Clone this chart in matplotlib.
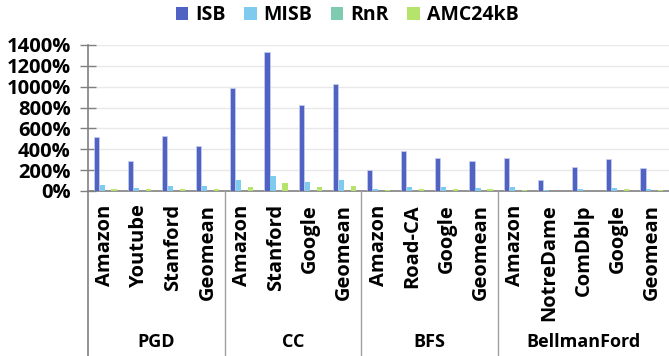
import matplotlib
matplotlib.use("Agg")
import matplotlib.pyplot as plt
from matplotlib.lines import Line2D
from matplotlib.patches import Patch
import numpy as np

plt.rcParams['font.family'] = ['Open Sans', 'DejaVu Sans']
plt.rcParams['font.weight'] = 'bold'

groups = ["PGD", "CC", "BFS", "BellmanFord"]
group_categories = [
    ["Amazon", "Youtube", "Stanford", "Geomean"],
    ["Amazon", "Stanford", "Google", "Geomean"],
    ["Amazon", "Road-CA", "Google", "Geomean"],
    ["Amazon", "NotreDame", "ComDblp", "Google", "Geomean"],
]
series_names = ["ISB", "MISB", "RnR", "AMC24kB"]
isb = [520, 285, 527, 428, 990, 1330, 822, 1026, 198, 383, 313, 288, 316, 103, 227, 304, 218]
misb = [55, 26, 51, 45, 106, 144, 90, 109, 19, 38, 35, 32, 38, 10, 19, 32, 19]
rnr = [4, 2, 3, 4, 2, 2, 2, 2, 2, 2, 3, 2, 2, 1, 1, 3, 1]
amc24kb = [16, 16, 19, 16, 42, 80, 42, 51, 10, 19, 16, 16, 10, 3, 3, 16, 6]
yticks = [0, 200, 400, 600, 800, 1000, 1200, 1400]

colors = ["#5062C2", "#7ECBEF", "#7ECBB0", "#B6E36C"]

W, H = 669, 356
fig = plt.figure(figsize=(W / 100, H / 100), dpi=100)
ax_left, ax_right = 88 / W, 669 / W
ax_bottom, ax_top = 1 - 191 / H, 1 - 45 / H
ax = fig.add_axes([ax_left, ax_bottom, ax_right - ax_left, ax_top - ax_bottom])

labels = [c for g in group_categories for c in g]
n = len(labels)
x = np.arange(n)
slot = 0.175
bw = 0.15
for i, (vals, col) in enumerate(zip([isb, misb, rnr, amc24kb], colors)):
    ax.bar(x + (i - 1.5) * slot, vals, width=bw, color=col,
           edgecolor="#C9D0EE" if i == 0 else "none", linewidth=0.5,
           label=series_names[i], zorder=3)

ax.set_xlim(-0.5, n - 0.5)
ax.set_ylim(0, 1400)
ax.set_yticks(yticks)
ax.set_yticklabels([f"{v}%" for v in yticks], fontsize=14.5, fontweight='bold')
ax.yaxis.grid(True, color="#E9E9E9", linewidth=1, zorder=0)
ax.set_xticks([])
ax.tick_params(axis='y', direction='inout', length=11, width=1,
               color="#808080", pad=7)
for s in ["top", "right"]:
    ax.spines[s].set_visible(False)
ax.spines["left"].set_visible(False)
ax.spines["bottom"].set_color("#808080")
ax.spines["bottom"].set_linewidth(1.2)

# vertical axis line and group separators reaching to the bottom
fig.add_artist(Line2D([ax_left, ax_left], [0, ax_top], color="#808080",
                      linewidth=1.2, transform=fig.transFigure))
bx = 0
tr = ax.get_xaxis_transform()
for gname, cats in zip(groups, group_categories):
    start = bx
    bx += len(cats)
    if bx < n:
        xf = ax_left + (ax_right - ax_left) * (bx) / n
        fig.add_artist(Line2D([xf, xf], [0, ax_bottom], color="#A0A0A0",
                              linewidth=1, transform=fig.transFigure))
    center = (start + bx - 1) / 2
    ax.text(center, -1.035, gname, transform=tr, ha='center', va='center',
            fontsize=13, fontweight='bold', clip_on=False)

for xi, lab in zip(x, labels):
    ax.text(xi, -0.09, lab, transform=tr, rotation=90, ha='center', va='top',
            fontsize=14.5, fontweight='bold', clip_on=False)

handles = [Patch(facecolor=c, edgecolor='none') for c in colors]
fig.legend(handles, series_names, loc='center', bbox_to_anchor=(347 / W, 1 - 15 / H),
           ncol=4, frameon=False, handlelength=0.65, handleheight=0.65,
           handletextpad=0.35, columnspacing=0.95, borderpad=0,
           prop={'weight': 'bold', 'size': 14})

fig.savefig("out.png", dpi=100)
